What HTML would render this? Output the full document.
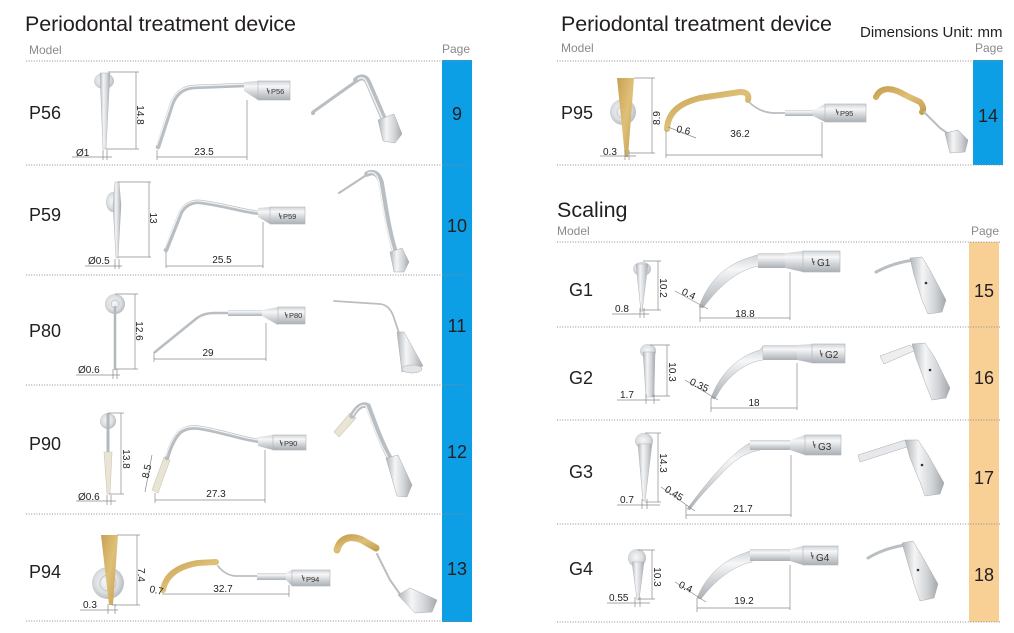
<!DOCTYPE html>
<html><head><meta charset="utf-8"><style>
html,body{margin:0;padding:0;background:#fff;width:1014px;height:633px;overflow:hidden}
svg{display:block}
.d{stroke:#8a8a8a;stroke-width:0.7;fill:none}
.t{font-size:10px;fill:#222}
.dot{stroke:#8c8c8c;stroke-width:1;stroke-dasharray:1 1.6}
.hd{font-size:21.5px;fill:#231f20}
.sm{font-size:12px;fill:#8a8a8a}
.ml{font-size:18px;fill:#231f20}
.pn{font-size:18px;fill:#231f20}
.cl{font-size:7.5px;fill:#333}
.cg{font-size:10px;fill:#333}
.sh{fill:none;stroke:#b9bec2;stroke-linecap:round}
.hl{fill:none;stroke:#f3f4f5;stroke-linecap:round}
.gd{fill:none;stroke:url(#gold);stroke-linecap:round}
.cn{fill:url(#mv);stroke:#b0b5ba;stroke-width:0.6}
</style></head><body>
<svg width="1014" height="633" viewBox="0 0 1014 633" xmlns="http://www.w3.org/2000/svg" font-family="'Liberation Sans', Arial, sans-serif">
<defs>
<linearGradient id="mv" x1="0" y1="0" x2="0" y2="1"><stop offset="0" stop-color="#cfd2d5"/><stop offset="0.28" stop-color="#f6f7f8"/><stop offset="0.6" stop-color="#d3d6d9"/><stop offset="1" stop-color="#aab0b5"/></linearGradient>
<linearGradient id="mh" x1="0" y1="0" x2="1" y2="0"><stop offset="0" stop-color="#b0b5ba"/><stop offset="0.35" stop-color="#f4f5f6"/><stop offset="0.7" stop-color="#d0d3d6"/><stop offset="1" stop-color="#a3a8ad"/></linearGradient>
<radialGradient id="mr" cx="0.45" cy="0.45" r="0.6"><stop offset="0" stop-color="#f6f7f8"/><stop offset="0.6" stop-color="#dcdfe1"/><stop offset="1" stop-color="#b0b5ba"/></radialGradient>
<linearGradient id="gold" x1="0" y1="0" x2="1" y2="1"><stop offset="0" stop-color="#c7a152"/><stop offset="0.5" stop-color="#dfc078"/><stop offset="1" stop-color="#c49f50"/></linearGradient>
</defs>

<!-- ===== LEFT PANEL ===== -->
<text class="hd" x="25" y="31" textLength="271">Periodontal treatment device</text>
<text class="sm" x="29" y="54">Model</text>
<text class="sm" x="442" y="53">Page</text>
<rect x="442" y="60" width="30" height="562" fill="#0c9fe6"/>
<line class="dot" x1="26" y1="61" x2="470" y2="61"/>
<line class="dot" x1="26" y1="165" x2="468" y2="165"/>
<line class="dot" x1="26" y1="275" x2="468" y2="275"/>
<line class="dot" x1="26" y1="385" x2="468" y2="385"/>
<line class="dot" x1="26" y1="514" x2="468" y2="514"/>
<line class="dot" x1="26" y1="621" x2="468" y2="621"/>

<text class="ml" x="29" y="119">P56</text>
<text class="ml" x="29" y="221">P59</text>
<text class="ml" x="29" y="337">P80</text>
<text class="ml" x="29" y="450">P90</text>
<text class="ml" x="29" y="578">P94</text>
<text class="pn" x="457" y="120" text-anchor="middle">9</text>
<text class="pn" x="457" y="232" text-anchor="middle">10</text>
<text class="pn" x="457" y="332" text-anchor="middle">11</text>
<text class="pn" x="457" y="458" text-anchor="middle">12</text>
<text class="pn" x="457" y="575" text-anchor="middle">13</text>

<!-- P56 -->
<ellipse cx="104" cy="81" rx="10" ry="8" fill="url(#mr)"/>
<polygon points="100,73 110,73 106,149 103,149" fill="url(#mh)" stroke="#b0b5ba" stroke-width="0.5"/>
<line class="d" x1="108" y1="72" x2="139" y2="72"/><line class="d" x1="106" y1="149" x2="139" y2="149"/><line class="d" x1="136" y1="72" x2="136" y2="149"/>
<text class="t" transform="translate(137,115) rotate(90)" text-anchor="middle">14.8</text>
<text class="t" x="76" y="156">Ø1</text>
<line class="d" x1="72" y1="157" x2="112" y2="157"/><line class="d" x1="103" y1="150" x2="103" y2="160"/><line class="d" x1="107" y1="150" x2="107" y2="160"/>
<path class="sh" d="M158,147 L172,104 Q178,88 194,87 L246,85" stroke-width="4.5"/>
<path class="hl" d="M157,145 L171,103 Q177,87 194,86 L246,84" stroke-width="1.2"/>
<polygon points="244,82 258,81 258,100 244,91" fill="url(#mv)"/>
<rect class="cn" x="258" y="81" width="32" height="19"/>
<path d="M267,88 l2,6 m-2,-3 l3,0" stroke="#444" stroke-width="0.8" fill="none"/>
<text class="cl" x="271" y="94">P56</text>
<line class="d" x1="247" y1="100" x2="247" y2="160"/><line class="d" x1="157" y1="157" x2="247" y2="157"/><line class="d" x1="157" y1="150" x2="157" y2="160"/>
<text class="t" x="204" y="155" text-anchor="middle">23.5</text>
<circle cx="313" cy="113" r="2" fill="#b5babe"/>
<path class="sh" d="M313,112 L358,80" stroke-width="3"/>
<path class="sh" d="M356,80 Q364,74 368,82 L386,124" stroke-width="6"/>
<path class="hl" d="M358,79 Q363,76 366,81 L384,122" stroke-width="1.5"/>
<path d="M378,120 L394,114 L402,134 L395,143 L383,141 Z" fill="url(#mh)" stroke="#aaa" stroke-width="0.5"/>

<!-- P59 -->
<ellipse cx="113" cy="202" rx="7" ry="10" fill="url(#mr)"/>
<polygon points="115,182 119,182 121,205 118,258 116,258 113,205" fill="url(#mh)" stroke="#b0b5ba" stroke-width="0.5"/>
<line class="d" x1="118" y1="182" x2="151" y2="182"/><line class="d" x1="118" y1="257" x2="151" y2="257"/><line class="d" x1="149" y1="182" x2="149" y2="257"/>
<text class="t" transform="translate(150,218) rotate(90)" text-anchor="middle">13</text>
<text class="t" x="88" y="264">Ø0.5</text>
<line class="d" x1="85" y1="266" x2="122" y2="266"/><line class="d" x1="115" y1="259" x2="115" y2="269"/><line class="d" x1="119" y1="259" x2="119" y2="269"/>
<path class="sh" d="M166,250 L181,212 Q188,201 200,202 C225,205 245,212 260,213" stroke-width="4.5"/>
<path class="hl" d="M165,248 L180,211 Q187,200 200,201 C225,204 245,211 260,212" stroke-width="1.2"/>
<polygon points="258,208 270,207 270,224 258,217" fill="url(#mv)"/>
<rect class="cn" x="270" y="207" width="35" height="17"/>
<path d="M279,213 l2,6 m-2,-3 l3,0" stroke="#444" stroke-width="0.8" fill="none"/>
<text class="cl" x="283" y="219">P59</text>
<line class="d" x1="263" y1="222" x2="263" y2="268"/><line class="d" x1="166" y1="266" x2="263" y2="266"/><line class="d" x1="166" y1="252" x2="166" y2="268"/>
<text class="t" x="222" y="263" text-anchor="middle">25.5</text>
<path class="sh" d="M339,193 L368,174" stroke-width="2.2"/>
<path class="sh" d="M367,174 Q377,169 381,182 C385,205 388,230 396,255" stroke-width="5.5"/>
<path class="hl" d="M368,173 Q376,170 379,182 C383,205 386,230 394,254" stroke-width="1.3"/>
<path d="M390,252 L402,248 L409,262 L404,272 L394,272 Z" fill="url(#mh)" stroke="#aaa" stroke-width="0.5"/>

<!-- P80 -->
<circle cx="115" cy="304" r="10" fill="url(#mr)"/>
<circle cx="115" cy="304" r="4" fill="none" stroke="#c3c7cb" stroke-width="1"/>
<line x1="115" y1="306" x2="115" y2="370" stroke="#b3b8bd" stroke-width="2.5"/>
<line class="d" x1="115" y1="294" x2="138" y2="294"/><line class="d" x1="116" y1="369" x2="138" y2="369"/><line class="d" x1="135" y1="294" x2="135" y2="369"/>
<text class="t" transform="translate(136,331) rotate(90)" text-anchor="middle">12.6</text>
<text class="t" x="78" y="373">Ø0.6</text>
<line class="d" x1="76" y1="375" x2="120" y2="375"/><line class="d" x1="113" y1="369" x2="113" y2="379"/><line class="d" x1="117" y1="369" x2="117" y2="379"/>
<path class="sh" d="M155,352 L197,318 Q204,313 214,313 L230,313" stroke-width="2.6"/>
<rect x="228" y="310" width="34" height="6" fill="url(#mv)"/>
<polygon points="262,310 278,307 278,325 262,316" fill="url(#mv)"/>
<rect class="cn" x="278" y="307" width="27" height="17"/>
<path d="M285,312 l2,6 m-2,-3 l3,0" stroke="#444" stroke-width="0.8" fill="none"/>
<text class="cl" x="289" y="318">P80</text>
<line class="d" x1="266" y1="323" x2="266" y2="361"/><line class="d" x1="154" y1="359" x2="266" y2="359"/><line class="d" x1="154" y1="352" x2="154" y2="362"/>
<text class="t" x="208" y="356" text-anchor="middle">29</text>
<path class="sh" d="M334,301 L380,304 Q390,305 394,318 L400,336" stroke-width="1.8"/>
<path d="M397,332 L404,332 L423,366 L402,372 Z" fill="url(#mh)" stroke="#aaa" stroke-width="0.5"/>
<ellipse cx="412" cy="369" rx="10" ry="4" fill="#e3e6e8" stroke="#aaa" stroke-width="0.5"/>

<!-- P90 -->
<circle cx="108" cy="421" r="8" fill="url(#mr)"/>
<line x1="108" y1="413" x2="108" y2="453" stroke="#b3b8bd" stroke-width="3"/>
<polygon points="104,452 112,452 110,494 107,494" fill="#e9e4d4" stroke="#cdc7b5" stroke-width="0.6"/>
<line class="d" x1="108" y1="413" x2="124" y2="413"/><line class="d" x1="109" y1="494" x2="124" y2="494"/><line class="d" x1="121" y1="413" x2="121" y2="494"/>
<text class="t" transform="translate(123,459) rotate(90)" text-anchor="middle">13.8</text>
<text class="t" x="78" y="500">Ø0.6</text>
<line class="d" x1="76" y1="501" x2="116" y2="501"/><line class="d" x1="107" y1="495" x2="107" y2="505"/><line class="d" x1="111" y1="495" x2="111" y2="505"/>
<polygon points="152,490 158,493 170,460 164,457" fill="#e9e4d4" stroke="#cdc7b5" stroke-width="0.6"/>
<path class="sh" d="M167,458 Q172,440 180,432 Q188,426 200,428 C225,432 245,440 260,441" stroke-width="4.5"/>
<path class="hl" d="M166,456 Q171,439 179,431 Q187,425 200,427 C225,431 245,439 260,440" stroke-width="1.2"/>
<polygon points="258,437 273,435 273,450 258,446" fill="url(#mv)"/>
<rect class="cn" x="273" y="435" width="33" height="15"/>
<path d="M280,440 l2,6 m-2,-3 l3,0" stroke="#444" stroke-width="0.8" fill="none"/>
<text class="cl" x="284" y="446">P90</text>
<line class="d" x1="152" y1="455" x2="145" y2="492"/>
<text class="t" transform="translate(150,472) rotate(-78)" text-anchor="middle">8.5</text>
<line class="d" x1="265" y1="450" x2="265" y2="503"/><line class="d" x1="155" y1="500" x2="265" y2="500"/><line class="d" x1="155" y1="493" x2="155" y2="503"/>
<text class="t" x="216" y="497" text-anchor="middle">27.3</text>
<polygon points="334,432 350,413 356,418 339,437" fill="#e9e4d4" stroke="#cdc7b5" stroke-width="0.6"/>
<path class="sh" d="M352,416 Q360,402 368,406 C375,425 382,445 392,462" stroke-width="5.5"/>
<path class="hl" d="M353,415 Q360,403 366,406 C373,425 380,445 390,461" stroke-width="1.3"/>
<path d="M386,458 L398,455 L412,485 L407,497 L397,496 Z" fill="url(#mh)" stroke="#aaa" stroke-width="0.5"/>

<!-- P94 -->
<circle cx="108" cy="583" r="16" fill="url(#mr)"/>
<circle cx="108" cy="583" r="8" fill="none" stroke="#c8ccd0" stroke-width="1.2"/>
<polygon points="101,535 118,535 113,605 109,605" fill="url(#gold)"/>
<line class="d" x1="117" y1="535" x2="140" y2="535"/><line class="d" x1="112" y1="605" x2="140" y2="605"/><line class="d" x1="137" y1="535" x2="137" y2="605"/>
<text class="t" transform="translate(138,575) rotate(90)" text-anchor="middle">7.4</text>
<text class="t" x="83" y="608">0.3</text>
<line class="d" x1="80" y1="610" x2="118" y2="610"/><line class="d" x1="108" y1="604" x2="108" y2="614"/><line class="d" x1="115" y1="604" x2="115" y2="614"/>
<path class="gd" d="M163,590 C166,574 180,566 198,563 L216,562" stroke-width="6"/>
<path class="sh" d="M218,566 Q225,575 235,576 L258,576" stroke-width="1.8"/>
<rect x="257" y="573" width="31" height="7" fill="url(#mv)"/>
<polygon points="286,573 292,570 292,586 286,580" fill="url(#mv)"/>
<rect class="cn" x="292" y="570" width="38" height="16"/>
<path d="M302,575 l2,6 m-2,-3 l3,0" stroke="#444" stroke-width="0.8" fill="none"/>
<text class="cl" x="306" y="582">P94</text>
<text class="t" transform="translate(149,592) rotate(12)" font-size="9">0.7</text>
<line class="d" x1="289" y1="585" x2="289" y2="597"/><line class="d" x1="162" y1="594" x2="289" y2="594"/>
<text class="t" x="223" y="592" text-anchor="middle">32.7</text>
<path class="gd" d="M337,550 C340,538 350,535 362,540 L376,548" stroke-width="7"/>
<path class="sh" d="M377,554 L390,580 L402,597" stroke-width="2"/>
<path d="M398,595 L410,588 L437,600 L432,612 L415,613 Z" fill="url(#mh)" stroke="#aaa" stroke-width="0.5"/>

<!-- ===== RIGHT PANEL ===== -->
<text class="hd" x="561" y="31" textLength="271">Periodontal treatment device</text>
<text x="860" y="37" font-size="15" fill="#231f20">Dimensions Unit: mm</text>
<text class="sm" x="561" y="52">Model</text>
<text class="sm" x="975" y="52">Page</text>
<rect x="973" y="60" width="30" height="105" fill="#0c9fe6"/>
<line class="dot" x1="557" y1="61" x2="1003" y2="61"/>
<line class="dot" x1="557" y1="165" x2="1003" y2="165"/>
<text class="ml" x="561" y="119">P95</text>
<text class="pn" x="988" y="122" text-anchor="middle">14</text>

<!-- P95 -->
<circle cx="623" cy="112" r="13" fill="url(#mr)"/>
<circle cx="623" cy="112" r="6" fill="none" stroke="#c8ccd0" stroke-width="1"/>
<polygon points="617,78 634,78 628,157 625,157" fill="url(#gold)"/>
<line class="d" x1="634" y1="78" x2="655" y2="78"/><line class="d" x1="628" y1="153" x2="655" y2="153"/><line class="d" x1="652" y1="78" x2="652" y2="153"/>
<text class="t" transform="translate(660,118) rotate(-90)" text-anchor="middle">8.9</text>
<text class="t" x="603" y="155">0.3</text>
<line class="d" x1="600" y1="156" x2="636" y2="156"/><line class="d" x1="625" y1="150" x2="625" y2="160"/><line class="d" x1="629" y1="150" x2="629" y2="160"/>
<path class="gd" d="M667,129 C668,112 680,103 700,98 L740,92 Q750,92 748,100" stroke-width="6"/>
<path class="sh" d="M750,103 Q760,112 772,113 L786,113" stroke-width="1.8"/>
<rect x="785" y="110" width="30" height="6" fill="url(#mv)"/>
<polygon points="813,110 825,104 825,122 813,116" fill="url(#mv)"/>
<rect class="cn" x="825" y="104" width="41" height="18"/>
<path d="M836,109 l2,6 m-2,-3 l3,0" stroke="#444" stroke-width="0.8" fill="none"/>
<text class="cl" x="840" y="116">P95</text>
<line class="d" x1="668" y1="127" x2="696" y2="138"/>
<text class="t" transform="translate(676,132) rotate(12)">0.6</text>
<line class="d" x1="822" y1="122" x2="822" y2="158"/><line class="d" x1="666" y1="155" x2="822" y2="155"/><line class="d" x1="666" y1="130" x2="666" y2="158"/>
<text class="t" x="740" y="137" text-anchor="middle">36.2</text>
<path class="gd" d="M876,97 C880,88 890,86 905,95 L920,102 Q925,108 922,112" stroke-width="6"/>
<path class="sh" d="M924,112 L940,128 L950,135" stroke-width="2"/>
<path d="M945,133 L958,130 L968,140 L965,152 L950,153 Z" fill="url(#mh)" stroke="#aaa" stroke-width="0.5"/>

<!-- Scaling -->
<text class="hd" x="557" y="217">Scaling</text>
<text class="sm" x="557" y="235">Model</text>
<text class="sm" x="971" y="235">Page</text>
<rect x="969" y="242" width="30" height="380" fill="#f8cf94"/>
<line class="dot" x1="557" y1="242" x2="1000" y2="242"/>
<line class="dot" x1="557" y1="327" x2="1000" y2="327"/>
<line class="dot" x1="557" y1="420" x2="1000" y2="420"/>
<line class="dot" x1="557" y1="524" x2="1000" y2="524"/>
<line class="dot" x1="557" y1="622" x2="1000" y2="622"/>
<text class="ml" x="569" y="296">G1</text>
<text class="ml" x="569" y="384">G2</text>
<text class="ml" x="569" y="478">G3</text>
<text class="ml" x="569" y="575">G4</text>
<text class="pn" x="984" y="297" text-anchor="middle">15</text>
<text class="pn" x="984" y="384" text-anchor="middle">16</text>
<text class="pn" x="984" y="484" text-anchor="middle">17</text>
<text class="pn" x="984" y="581" text-anchor="middle">18</text>

<!-- G1 -->
<ellipse cx="642" cy="269" rx="9" ry="7" fill="url(#mr)"/>
<polygon points="636,264 648,264 642,312 641,312" fill="url(#mh)" stroke="#b0b5ba" stroke-width="0.5"/>
<line class="d" x1="643" y1="261" x2="661" y2="261"/><line class="d" x1="642" y1="310" x2="661" y2="310"/><line class="d" x1="658" y1="261" x2="658" y2="310"/>
<text class="t" transform="translate(660,288) rotate(90)" text-anchor="middle">10.2</text>
<text class="t" x="615" y="312">0.8</text>
<line class="d" x1="612" y1="314" x2="649" y2="314"/><line class="d" x1="640" y1="308" x2="640" y2="318"/><line class="d" x1="644" y1="308" x2="644" y2="318"/>
<path d="M699,307 C706,287 720,268 745,259 L760,254 L760,266 C742,268 722,282 703,308 Z" fill="url(#mv)" stroke="#b0b5ba" stroke-width="0.5"/>
<rect x="758" y="253" width="27" height="15" fill="url(#mv)"/>
<polygon points="785,253 803,251 803,272 785,268" fill="url(#mv)"/>
<rect class="cn" x="803" y="251" width="37" height="21"/>
<path d="M812,258 l2,7 m-2,-3 l3,0" stroke="#444" stroke-width="0.8" fill="none"/>
<text class="cg" x="817" y="266">G1</text>
<line class="d" x1="675" y1="291" x2="708" y2="309"/>
<text class="t" transform="translate(681,294) rotate(25)">0.4</text>
<line class="d" x1="790" y1="272" x2="790" y2="320"/><line class="d" x1="700" y1="318" x2="790" y2="318"/><line class="d" x1="700" y1="306" x2="700" y2="322"/>
<text class="t" x="745" y="317" text-anchor="middle">18.8</text>
<path class="sh" d="M876,272 Q895,262 915,260" stroke-width="3"/>
<path d="M910,258 L922,257 L930,270 L946,300 L942,312 L928,314 L922,300 L914,275 Z" fill="url(#mh)" stroke="#aaa" stroke-width="0.5"/>
<circle cx="926" cy="283" r="1.3" fill="#333"/>

<!-- G2 -->
<ellipse cx="648" cy="351" rx="8" ry="7" fill="url(#mr)"/>
<polygon points="643,352 655,352 654,397 646,397" fill="url(#mh)" stroke="#b0b5ba" stroke-width="0.5"/>
<line class="d" x1="650" y1="345" x2="670" y2="345"/><line class="d" x1="652" y1="396" x2="670" y2="396"/><line class="d" x1="667" y1="345" x2="667" y2="396"/>
<text class="t" transform="translate(669,372) rotate(90)" text-anchor="middle">10.3</text>
<text class="t" x="620" y="398">1.7</text>
<line class="d" x1="617" y1="400" x2="660" y2="400"/><line class="d" x1="646" y1="394" x2="646" y2="404"/><line class="d" x1="654" y1="394" x2="654" y2="404"/>
<path d="M711,398 C718,378 735,357 760,350 L763,346 L763,360 C745,362 725,378 715,399 Z" fill="url(#mv)" stroke="#b0b5ba" stroke-width="0.5"/>
<rect x="763" y="345" width="34" height="15" fill="url(#mv)"/>
<polygon points="797,345 812,344 812,363 797,360" fill="url(#mv)"/>
<rect class="cn" x="812" y="344" width="33" height="19"/>
<path d="M820,350 l2,7 m-2,-3 l3,0" stroke="#444" stroke-width="0.8" fill="none"/>
<text class="cg" x="825" y="358">G2</text>
<line class="d" x1="685" y1="380" x2="718" y2="400"/>
<text class="t" transform="translate(689,384) rotate(25)">0.35</text>
<line class="d" x1="797" y1="363" x2="797" y2="410"/><line class="d" x1="711" y1="408" x2="797" y2="408"/><line class="d" x1="711" y1="398" x2="711" y2="412"/>
<text class="t" x="754" y="406" text-anchor="middle">18</text>
<polygon points="880,356 910,345 916,350 884,364" fill="#eceef0" stroke="#aaa" stroke-width="0.5"/>
<path d="M912,344 L925,343 L935,358 L950,388 L946,398 L932,400 L926,385 L916,358 Z" fill="url(#mh)" stroke="#aaa" stroke-width="0.5"/>
<circle cx="930" cy="370" r="1.3" fill="#333"/>

<!-- G3 -->
<ellipse cx="644" cy="441" rx="9" ry="8" fill="url(#mr)"/>
<polygon points="638,444 652,444 645,501 643,501" fill="url(#mh)" stroke="#b0b5ba" stroke-width="0.5"/>
<line class="d" x1="645" y1="433" x2="661" y2="433"/><line class="d" x1="645" y1="502" x2="661" y2="502"/><line class="d" x1="658" y1="433" x2="658" y2="502"/>
<text class="t" transform="translate(660,463) rotate(90)" text-anchor="middle">14.3</text>
<text class="t" x="620" y="503">0.7</text>
<line class="d" x1="617" y1="505" x2="660" y2="505"/><line class="d" x1="642" y1="499" x2="642" y2="509"/><line class="d" x1="647" y1="499" x2="647" y2="509"/>
<path d="M687,509 C705,485 725,460 745,446 Q752,441 760,440 L760,450 Q742,453 727,468 C712,484 698,498 690,510 Z" fill="url(#mv)" stroke="#b0b5ba" stroke-width="0.5"/>
<rect x="750" y="440" width="40" height="10" fill="url(#mv)"/>
<polygon points="790,440 805,435 805,455 790,450" fill="url(#mv)"/>
<rect class="cn" x="805" y="435" width="36" height="20"/>
<path d="M813,441 l2,7 m-2,-3 l3,0" stroke="#444" stroke-width="0.8" fill="none"/>
<text class="cg" x="818" y="450">G3</text>
<line class="d" x1="661" y1="487" x2="695" y2="511"/>
<text class="t" transform="translate(664,491) rotate(32)">0.45</text>
<line class="d" x1="791" y1="455" x2="791" y2="517"/><line class="d" x1="686" y1="515" x2="791" y2="515"/><line class="d" x1="686" y1="505" x2="686" y2="519"/>
<text class="t" x="743" y="512" text-anchor="middle">21.7</text>
<polygon points="858,455 905,440 910,446 860,462" fill="#e6e8eb" stroke="#aaa" stroke-width="0.5"/>
<path d="M905,440 L918,440 L928,455 L944,483 L940,494 L925,496 L920,482 L910,458 Z" fill="url(#mh)" stroke="#aaa" stroke-width="0.5"/>
<circle cx="922" cy="465" r="1.3" fill="#333"/>

<!-- G4 -->
<circle cx="637" cy="558" r="9" fill="url(#mr)"/>
<polygon points="632,562 644,562 639,600 637,600" fill="url(#mh)" stroke="#b0b5ba" stroke-width="0.5"/>
<line class="d" x1="638" y1="550" x2="655" y2="550"/><line class="d" x1="638" y1="599" x2="655" y2="599"/><line class="d" x1="652" y1="550" x2="652" y2="599"/>
<text class="t" transform="translate(654,577) rotate(90)" text-anchor="middle">10.3</text>
<text class="t" x="609" y="601">0.55</text>
<line class="d" x1="607" y1="603" x2="650" y2="603"/><line class="d" x1="635" y1="597" x2="635" y2="607"/><line class="d" x1="640" y1="597" x2="640" y2="607"/>
<path d="M697,598 C705,578 722,560 745,553 L752,550 L752,562 C735,565 715,580 701,599 Z" fill="url(#mv)" stroke="#b0b5ba" stroke-width="0.5"/>
<rect x="750" y="549" width="40" height="12" fill="url(#mv)"/>
<polygon points="790,549 803,546 803,565 790,561" fill="url(#mv)"/>
<rect class="cn" x="803" y="546" width="35" height="19"/>
<path d="M811,552 l2,7 m-2,-3 l3,0" stroke="#444" stroke-width="0.8" fill="none"/>
<text class="cg" x="816" y="561">G4</text>
<line class="d" x1="675" y1="582" x2="706" y2="602"/>
<text class="t" transform="translate(678,587) rotate(25)">0.4</text>
<line class="d" x1="790" y1="565" x2="790" y2="610"/><line class="d" x1="697" y1="608" x2="790" y2="608"/><line class="d" x1="697" y1="598" x2="697" y2="612"/>
<text class="t" x="744" y="604" text-anchor="middle">19.2</text>
<path class="sh" d="M868,558 Q885,548 905,545" stroke-width="3"/>
<path d="M902,543 L913,541 L922,556 L938,584 L934,598 L920,601 L915,587 L907,560 Z" fill="url(#mh)" stroke="#aaa" stroke-width="0.5"/>
<circle cx="918" cy="570" r="1.3" fill="#333"/>
</svg>
</body></html>
